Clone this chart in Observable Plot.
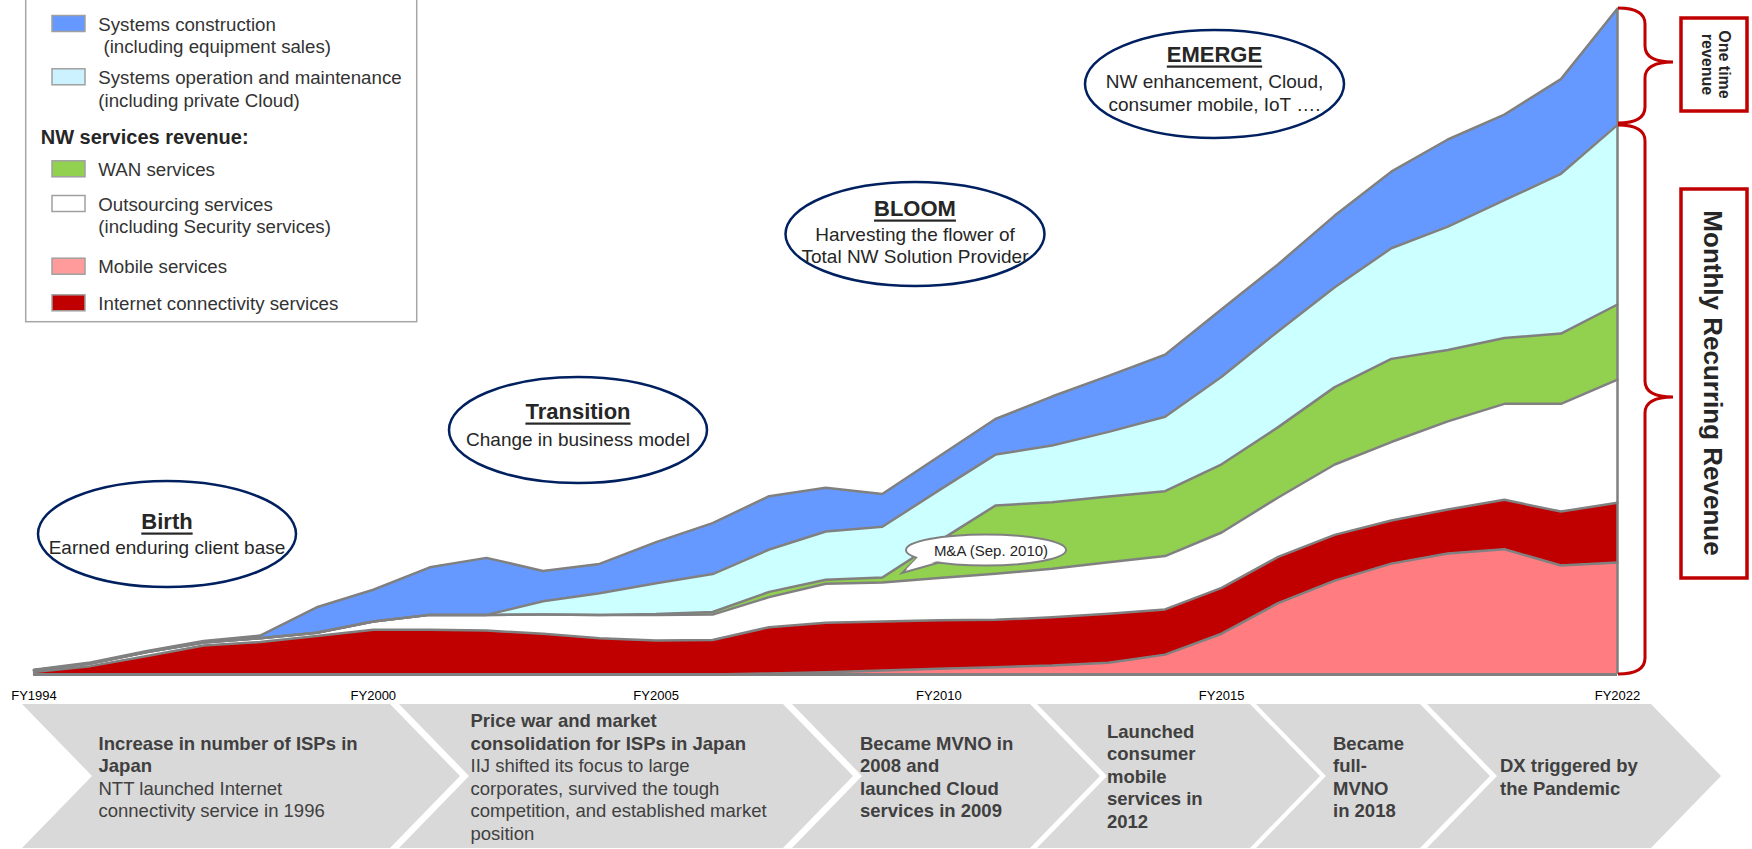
<!DOCTYPE html>
<html><head><meta charset="utf-8">
<script src="https://cdn.jsdelivr.net/npm/d3@7"></script>
<script src="https://cdn.jsdelivr.net/npm/@observablehq/plot@0.6"></script>
<style>body{margin:0;background:#fff;} svg{display:block}</style>
</head><body><div id="chart"></div>
<script>
// ---------- data (roughly billions of yen) ----------
const years = [1994,1995,1996,1997,1998,1999,2000,2001,2002,2003,2004,2005,2006,2007,2008,2009,2010,2011,2012,2013,2014,2015,2016,2017,2018,2019,2020,2021,2022];
const mobile      = [0,0,0,0,0,0,0,0,0,0,0,0,0,0.4,0.9,1.5,2.2,2.8,3.4,4.5,7.6,15.6,27.3,35.9,42.4,46.3,47.9,41.7,42.8];
const internet    = [1.0,3.2,7.1,11.1,12.4,14.7,17.1,17.1,16.8,15.6,13.9,13.0,13.2,17.7,18.9,18.8,18.5,18.1,18.5,18.7,17.3,17.5,17.7,17.5,16.5,16.8,18.9,20.6,22.9];
const outsourcing = [0.6,1.0,1.5,1.1,1.5,1.3,3.2,5.7,6.0,7.3,8.9,9.8,9.7,11.5,14.9,14.9,16.2,17.6,18.5,19.7,20.4,21.2,22.7,26.9,30.0,33.7,36.7,41.2,47.1];
const wan         = [0,0,0,0,0,0,0,0,0,0,0,0.3,1.0,2.0,1.5,1.9,14.1,26.1,25.5,25.2,24.8,26.1,26.9,29.6,31.8,27.3,25.2,26.9,28.7];
const sysOp       = [0,0,0,0,0,0,0,0,0,5.1,8.3,11.8,14.5,16.2,18.5,19.4,19.4,19.5,21.7,24.7,28.5,33.5,36.7,38.2,42.3,47.2,52.7,61.1,68.7];
const sysCon      = [0.2,0.4,0.4,0.6,1.0,9.7,12.1,18.2,21.8,11.6,11.2,15.7,19.5,20.4,16.7,12.5,13.0,13.6,18.7,21.4,23.7,25.8,25.6,27.4,29.3,33.3,32.7,36.2,44.5];

const seriesNames  = ["Mobile services","Internet connectivity services","Outsourcing services","WAN services","Systems operation and maintenance","Systems construction"];
const seriesColors = ["#FF7C80","#C00000","#FFFFFF","#92D050","#CCFFFF","#6699FF"];
const tickYears  = [1994,2000,2005,2010,2015,2022];
const tickLabels = ["FY1994","FY2000","FY2005","FY2010","FY2015","FY2022"];

const legendItems = [
  {lines:["Systems construction"," (including equipment sales)"], color:"#6699FF"},
  {lines:["Systems operation and maintenance","(including private Cloud)"], color:"#CCF2FF"},
  {heading:"NW services revenue:"},
  {lines:["WAN services"], color:"#92D050"},
  {lines:["Outsourcing services","(including Security services)"], color:"#FFFFFF"},
  {lines:["Mobile services"], color:"#FF9B9B"},
  {lines:["Internet connectivity services"], color:"#C00000"}
];
const phases = [
  {title:"Birth", lines:["Earned enduring client base"]},
  {title:"Transition", lines:["Change in business model"]},
  {title:"BLOOM", lines:["Harvesting the flower of","Total NW Solution Provider"]},
  {title:"EMERGE", lines:["NW enhancement, Cloud,","consumer mobile, IoT …."]}
];
const milestones = [
  {bold:["Increase in number of ISPs in","Japan"], normal:["NTT launched Internet","connectivity service in 1996"]},
  {bold:["Price war and market","consolidation for ISPs in Japan"], normal:["IIJ shifted its focus to large","corporates, survived the tough","competition, and established market","position"]},
  {bold:["Became MVNO in","2008 and","launched Cloud","services in 2009"], normal:[]},
  {bold:["Launched","consumer","mobile","services in","2012"], normal:[]},
  {bold:["Became","full-","MVNO","in 2018"], normal:[]},
  {bold:["DX triggered by","the Pandemic"], normal:[]}
];
const maLabel = "M&A (Sep. 2010)";

// ---------- chart ----------
const seriesValues = [mobile, internet, outsourcing, wan, sysOp, sysCon];
const rows = seriesNames.flatMap((s, k) => years.map((yr, i) => ({series: s, year: yr, value: seriesValues[k][i]})));
const total2022 = d3.sum(seriesValues, v => v[v.length - 1]);
const FONT = "'Liberation Sans', Arial, sans-serif";

const chart = Plot.plot({
  width: 1752, height: 849,
  marginLeft: 33.5, marginRight: 135, marginTop: 8, marginBottom: 175,
  style: {fontFamily: FONT, background: "#fff", overflow: "visible"},
  x: {domain: [1994, 2022], axis: null},
  y: {domain: [0, total2022], axis: null},
  color: {domain: seriesNames, range: seriesColors},
  marks: [
    Plot.areaY(rows, {x: "year", y: "value", z: "series", fill: "series", order: seriesNames}),
    Plot.lineY(rows, Plot.stackY2({x: "year", y: "value", z: "series", order: seriesNames, stroke: "#808080", strokeWidth: 2.5})),
    Plot.ruleY([0], {stroke: "#808080", strokeWidth: 3}),
    Plot.ruleX([2022], {y1: 0, y2: total2022, stroke: "#808080", strokeWidth: 2.5}),
    Plot.text(tickYears, {x: d => d, y: 0, dy: 21, text: (d, i) => tickLabels[i], fontSize: 13, fill: "#000"})
  ]
});
document.getElementById("chart").appendChild(chart);

// ---------- annotations ----------
const svg = d3.select(chart);
const ann = svg.append("g").attr("font-family", FONT).attr("text-anchor", "start");

// legend
const lg = ann.append("g");
lg.append("rect").attr("x", 25.7).attr("y", -5).attr("width", 391).attr("height", 326.7)
  .attr("fill", "#fff").attr("stroke", "#A6A6A6").attr("stroke-width", 1.5);
const legendY = [24, 77.3, 137.3, 169.3, 204, 266.7, 303.3];
legendItems.forEach((it, k) => {
  const y = legendY[k];
  if (it.heading) {
    lg.append("text").attr("x", 40.7).attr("y", y).attr("dominant-baseline", "central").attr("text-anchor", "start")
      .attr("font-size", 20).attr("font-weight", "bold").attr("fill", "#262626").text(it.heading);
    return;
  }
  lg.append("rect").attr("x", 52).attr("y", y - 8.5).attr("width", 33).attr("height", 16)
    .attr("fill", it.color).attr("stroke", "#A0A0A0").attr("stroke-width", 1.5);
  it.lines.forEach((t, j) => {
    lg.append("text").attr("x", 98.3).attr("y", y + j * 22.7).attr("dominant-baseline", "central").attr("text-anchor", "start")
      .attr("font-size", 18.7).attr("fill", "#333").attr("xml:space", "preserve").style("white-space", "pre").text(t);
  });
});

// phase ellipses
const phasePos = [
  {cx: 167, cy: 534, rx: 129, ry: 53, ty: [521, 547.5]},
  {cx: 578, cy: 430, rx: 129, ry: 53, ty: [411, 439]},
  {cx: 915, cy: 234, rx: 129.5, ry: 52, ty: [208, 234.6, 256]},
  {cx: 1214.5, cy: 84, rx: 129.5, ry: 54, ty: [54, 81.6, 104]}
];
phases.forEach((p, k) => {
  const pos = phasePos[k];
  ann.append("ellipse").attr("cx", pos.cx).attr("cy", pos.cy).attr("rx", pos.rx).attr("ry", pos.ry)
    .attr("fill", "#fff").attr("stroke", "#002060").attr("stroke-width", 2.5);
  ann.append("text").attr("x", pos.cx).attr("y", pos.ty[0]).attr("text-anchor", "middle").attr("dominant-baseline", "central")
    .attr("font-size", 22).attr("font-weight", "bold").attr("fill", "#262626").style("text-decoration", "underline").text(p.title);
  p.lines.forEach((t, j) => {
    ann.append("text").attr("x", pos.cx).attr("y", pos.ty[j + 1]).attr("text-anchor", "middle").attr("dominant-baseline", "central")
      .attr("font-size", 19).attr("fill", "#262626").text(t);
  });
});

// M&A callout
const ma = ann.append("g");
ma.append("path").attr("d", "M917,558 L902,573 L941,562 Z").attr("fill", "#fff").attr("stroke", "#808080").attr("stroke-width", 2);
ma.append("ellipse").attr("cx", 986).attr("cy", 550).attr("rx", 80).attr("ry", 15.5).attr("fill", "#fff").attr("stroke", "#808080").attr("stroke-width", 2);
ma.append("path").attr("d", "M919,556 L906,569.5 L938,561 Z").attr("fill", "#fff");
ma.append("text").attr("x", 991).attr("y", 550).attr("text-anchor", "middle").attr("dominant-baseline", "central")
  .attr("font-size", 15).attr("fill", "#262626").text(maLabel);

// right braces
function brace(y0, ym, y1) {
  const x0 = 1618, xs = 1645, xt = 1673, r = 16;
  return `M${x0},${y0} Q${xs},${y0} ${xs},${y0 + r} L${xs},${ym - r} Q${xs},${ym} ${xt},${ym} Q${xs},${ym} ${xs},${ym + r} L${xs},${y1 - r} Q${xs},${y1} ${x0},${y1}`;
}
ann.append("path").attr("d", brace(8, 62, 123)).attr("fill", "none").attr("stroke", "#C00000").attr("stroke-width", 3);
ann.append("path").attr("d", brace(125, 397, 674)).attr("fill", "none").attr("stroke", "#C00000").attr("stroke-width", 3);
ann.append("rect").attr("x", 1681).attr("y", 18).attr("width", 66).attr("height", 93).attr("fill", "#fff").attr("stroke", "#C00000").attr("stroke-width", 3.5);
ann.append("rect").attr("x", 1681).attr("y", 189).attr("width", 66).attr("height", 389).attr("fill", "#fff").attr("stroke", "#C00000").attr("stroke-width", 3.5);
const ot = ann.append("text").attr("transform", "translate(1716,64.5) rotate(90)").attr("text-anchor", "middle")
  .attr("font-size", 16).attr("font-weight", "bold").attr("fill", "#262626");
ot.append("tspan").attr("x", 0).attr("y", -8.5).attr("dominant-baseline", "central").text("One time");
ot.append("tspan").attr("x", 0).attr("y", 8.5).attr("dominant-baseline", "central").text("revenue");
ann.append("text").attr("transform", "translate(1713,383) rotate(90)").attr("text-anchor", "middle").attr("dominant-baseline", "central")
  .attr("font-size", 26).attr("font-weight", "bold").attr("fill", "#262626").text("Monthly Recurring Revenue");

// bottom chevrons
const chevrons = [
  {L: 22, R: 390, tx: 98.5, ty: 743},
  {L: 399, R: 783, tx: 470.5, ty: 720.5},
  {L: 792, R: 1030, tx: 860, ty: 743},
  {L: 1037, R: 1250, tx: 1107, ty: 731},
  {L: 1256, R: 1420, tx: 1333, ty: 743},
  {L: 1427, R: 1651, tx: 1500, ty: 765.5}
];
const D = 70, yT = 704, yM = 776, yB = 848, LH = 22.5;
chevrons.forEach((c, k) => {
  ann.append("path").attr("d", `M${c.L},${yT} L${c.R},${yT} L${c.R + D},${yM} L${c.R},${yB} L${c.L},${yB} L${c.L + D},${yM} Z`)
    .attr("fill", "#D9D9D9");
  const m = milestones[k];
  const all = m.bold.map(t => ({t, b: true})).concat(m.normal.map(t => ({t, b: false})));
  all.forEach((ln, j) => {
    ann.append("text").attr("x", c.tx).attr("y", c.ty + j * LH).attr("dominant-baseline", "central").attr("text-anchor", "start")
      .attr("font-size", 18.5).attr("font-weight", ln.b ? "bold" : "normal").attr("fill", "#404040").text(ln.t);
  });
});
</script>
</body></html>
